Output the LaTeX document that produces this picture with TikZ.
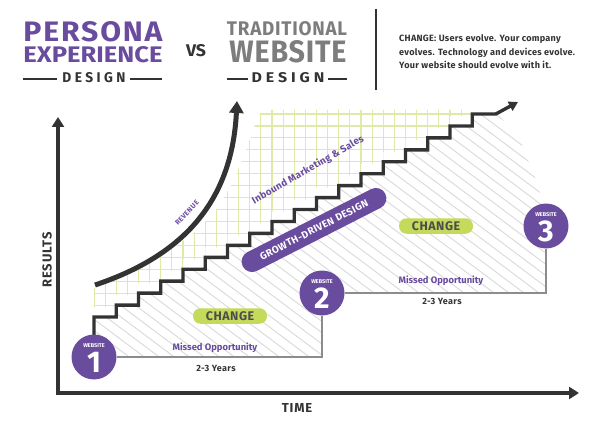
\documentclass[tikz,border=0pt]{standalone}
\usepackage{fontspec}
\usepackage{graphicx}
\setmainfont{Fira Sans}
\usetikzlibrary{arrows.meta,calc}
\definecolor{pp}{RGB}{106,76,158}
\definecolor{lg}{RGB}{196,218,90}
\definecolor{gridg}{RGB}{222,235,168}
\definecolor{hatchg}{RGB}{220,220,220}
\definecolor{dk}{RGB}{51,51,51}
\definecolor{tgray}{RGB}{125,125,125}
\definecolor{lgray}{RGB}{140,140,140}
\definecolor{chtxt}{RGB}{77,77,77}
\tikzset{
  axisline/.style={line width=3.6pt, draw=dk, arrows={Triangle[width=12pt,length=10pt]-Triangle[width=12pt,length=10pt]}},
  stairline/.style={line width=3.4pt, draw=dk, line join=miter, -{Triangle[width=10pt,length=9pt]}},
  revline/.style={line width=5pt, draw=dk, -{Triangle[width=14pt,length=12pt]}},
  hatchline/.style={draw=hatchg, line width=1pt},
  gridline/.style={draw=gridg, line width=1.1pt},
  gline/.style={draw=lgray, line width=1.5pt},
  site/.style={circle, fill=pp, minimum size=45pt, inner sep=0pt},
  sitelab/.style={text=white, font=\fontsize{5.5}{5.5}\bfseries, inner sep=0pt},
  sitenum/.style={text=white, font=\fontsize{30}{30}\bfseries, inner sep=0pt},
  cpill/.style={fill=lg, rounded corners=7.5pt, minimum width=74pt, minimum height=15.5pt, inner sep=0pt, text=chtxt, font=\fontsize{12.5}{12.5}\bfseries\addfontfeature{LetterSpace=4}},
  gpill/.style={fill=pp, rounded corners=10.5pt, minimum width=160pt, minimum height=21pt, inner sep=0pt, text=white, font=\fontsize{10}{10}\bfseries\addfontfeature{LetterSpace=4}},
  motxt/.style={text=pp, font=\fontsize{9.4}{9.4}\bfseries, inner sep=0pt},
  yrtxt/.style={text=dk, font=\fontsize{9}{9}\bfseries\addfontfeature{LetterSpace=4}, inner sep=0pt},
  axlab/.style={text=dk, font=\fontsize{13}{13}\bfseries\addfontfeature{LetterSpace=6}, inner sep=0pt},
  ttl/.style={inner sep=0pt, font=\bfseries},
  para/.style={text=dk, font=\fontsize{9.1}{9.1}\bfseries\addfontfeature{LetterSpace=3}, inner sep=0pt, anchor=base west},
  hline/.style={draw=dk, line width=1.3pt}
}
\begin{document}
\begin{tikzpicture}[x=1pt,y=-1pt]
\useasboundingbox (0,0) rectangle (600,433);
% hatch region
\begin{scope}
\clip (94,357) -- (94,317) \foreach \i in {1,...,17}{ -- ++(22.25,0) -- ++(0,-11.94)} -- (498,114) -- (520,140) -- (536,180) -- (546,212) -- (546,293) -- (322,293) -- (322,357) -- cycle;
\foreach \k in {-330,-315,...,560} \draw[hatchline] (\k,80) -- ++(600,450);
\end{scope}
% grid region
\begin{scope}
\clip (94,307) \foreach \i in {1,...,17}{ -- ++(22.25,0) -- ++(0,-11.94)} -- (472,101) -- (472,110) -- (262,110) -- (255,125) -- (246,150) -- (234,180) -- (218,208) -- (198,230) -- (170,250) -- (140,268) -- (94,288) -- cycle;
\foreach \i in {0,...,36} \draw[gridline] (94+11.125*\i,100) -- ++(0,230);
\foreach \j in {0,...,18} \draw[gridline] (90,317-11.94*\j) -- ++(400,0);
\end{scope}
% header
\node[ttl, text=pp] (persona) at (93,32) {\resizebox{139pt}{20pt}{\addfontfeature{LetterSpace=6}PERSONA}};
\node[ttl, text=pp] (experience) at (93,55) {\resizebox{139pt}{16pt}{EXPERIENCE}};
\node[ttl, text=dk] (design1) at (94,78) {\resizebox{63pt}{10pt}{\addfontfeature{LetterSpace=25}DESIGN}};
\coordinate (d1a) at (23,79); \coordinate (d1b) at (57,79);
\coordinate (d1c) at (130,79); \coordinate (d1d) at (162,79);
\draw[hline] (d1a) -- (d1b); \draw[hline] (d1c) -- (d1d);
\node[ttl, text=dk] (vs) at (196,51) {\resizebox{20pt}{12pt}{VS}};
\node[ttl, text=tgray] (trad) at (287,29) {\resizebox{120pt}{14pt}{\addfontfeature{LetterSpace=4}TRADITIONAL}};
\node[ttl, text=tgray] (website) at (288,52) {\resizebox{117pt}{22pt}{\addfontfeature{LetterSpace=3}WEBSITE}};
\node[ttl, text=dk] (design2) at (288,78) {\resizebox{73pt}{10pt}{\addfontfeature{LetterSpace=25}DESIGN}};
\coordinate (d2a) at (227,79); \coordinate (d2b) at (248,79);
\coordinate (d2c) at (328,79); \coordinate (d2d) at (347,79);
\draw[hline] (d2a) -- (d2b); \draw[hline] (d2c) -- (d2d);
\coordinate (vt) at (376,9); \coordinate (vb) at (376,90);
\draw[draw=dk, line width=2pt] (vt) -- (vb);
\node[para] (p1) at (399,42) {CHANGE: Users evolve. Your company};
\node[para] (p2) at (399,55.5) {evolves. Technology and devices evolve.};
\node[para] (p3) at (399,69) {Your website should evolve with it.};
% axes
\coordinate (ytip) at (58,117);
\coordinate (org) at (58,393);
\coordinate (xtip) at (579,393);
\draw[axisline] (ytip) -- (org) -- (xtip);
\node[axlab, rotate=90] (results) at (47,260) {RESULTS};
\node[axlab] (time) at (297,408) {TIME};
% revenue curve
\coordinate (r0) at (95,285); \coordinate (rc1) at (185,255);
\coordinate (rc2) at (232,200); \coordinate (r1) at (237,101);
\draw[revline] (r0) .. controls (rc1) and (rc2) .. (r1);
\node[text=pp, font=\fontsize{7}{7}\bfseries\addfontfeature{LetterSpace=6}, rotate=47, inner sep=0pt] (rev) at (187,213) {REVENUE};
% staircase
\coordinate (s0) at (94,336);
\coordinate (stip) at (518,102);
\draw[stairline] (s0) -- (94,317) \foreach \i in {1,...,17}{ -- ++(22.25,0) -- ++(0,-11.94)} -- ++(23.5,0) -- (stip);
% labels
\node[text=pp, font=\fontsize{9.8}{9.8}\bfseries\addfontfeature{LetterSpace=3}, rotate=30, inner sep=0pt] (inbound) at (308,170) {Inbound Marketing \& Sales};
\node[gpill, rotate=27] (gdd) at (314,230) {GROWTH-DRIVEN DESIGN};
\node[cpill] (ch1) at (230,316) {CHANGE};
\node[cpill] (ch2) at (436,226) {CHANGE};
% websites
\node[site] (w1) at (94,357) {};
\node[site] (w2) at (322,293) {};
\node[site] (w3) at (546,226) {};
\draw[gline] (w1.east) -- (w1.east -| w2) -- (w2.south);
\draw[gline] (w2.east) -- (w2.east -| w3) -- (w3.south);
\foreach \w/\n in {w1/1,w2/2,w3/3}{
  \node[sitelab] (\w lab) at ($(\w)+(0,-11.5)$) {WEBSITE};
  \node[sitenum] (\w num) at ($(\w)+(0,5)$) {\n};
}
\node[motxt] (mo1) at (215,348) {Missed Opportunity};
\node[yrtxt] (yr1) at (216,368) {2-3 Years};
\node[motxt] (mo2) at (441,281) {Missed Opportunity};
\node[yrtxt] (yr2) at (442,301) {2-3 Years};
\end{tikzpicture}
\end{document}
